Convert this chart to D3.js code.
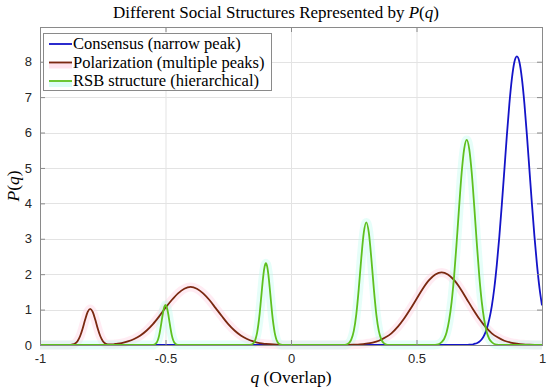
<!DOCTYPE html>
<html>
<head>
<meta charset="utf-8">
<script src="https://cdn.jsdelivr.net/npm/d3@7"></script>
<style>
  body { margin: 0; background: #fff; }
  .tick text { font-family: "Liberation Sans", Arial, sans-serif; font-size: 13px; fill: #262626; }
  .serif { font-family: "Liberation Serif", "Times New Roman", serif; fill: #000; }
</style>
</head>
<body>
<script>
// values
var xTicks = [-1, -0.5, 0, 0.5, 1];
var xTickLabels = ["-1", "-0.5", "0", "0.5", "1"];
var yTicks = [0, 1, 2, 3, 4, 5, 6, 7, 8];
var seriesNames = ["Consensus (narrow peak)", "Polarization (multiple peaks)", "RSB structure (hierarchical)"];

var qConsensus = [-1, 0.70, 0.71, 0.72, 0.73, 0.74, 0.75, 0.76, 0.77, 0.78, 0.79,
  0.80, 0.81, 0.82, 0.83, 0.84, 0.85, 0.86, 0.87, 0.88, 0.89,
  0.90, 0.91, 0.92, 0.93, 0.94, 0.95, 0.96, 0.97, 0.98, 0.99, 1.00];
var pConsensus = [0, 0, 0.01, 0.01, 0.03, 0.05, 0.09, 0.16, 0.28, 0.46, 0.73,
  1.10, 1.61, 2.27, 3.06, 3.97, 4.94, 5.92, 6.81, 7.52, 7.99,
  8.15, 7.99, 7.52, 6.81, 5.92, 4.94, 3.97, 3.06, 2.27, 1.61, 1.12];

var qPolar = [-1, -0.89, -0.88, -0.87, -0.86, -0.85, -0.84, -0.83, -0.82, -0.81, -0.80,
  -0.79, -0.78, -0.77, -0.76, -0.75, -0.74, -0.73, -0.72, -0.71,
  -0.70, -0.675, -0.65, -0.625, -0.60, -0.575, -0.55, -0.525, -0.50, -0.475, -0.45, -0.425,
  -0.40, -0.375, -0.35, -0.325, -0.30, -0.275, -0.25, -0.225, -0.20, -0.175, -0.15, -0.125,
  -0.10, -0.05, 0.00,
  0.20, 0.25, 0.275, 0.30, 0.325, 0.35, 0.375, 0.40, 0.425, 0.45, 0.475, 0.50, 0.525, 0.55, 0.575,
  0.60, 0.625, 0.65, 0.675, 0.70, 0.725, 0.75, 0.775, 0.80, 0.825, 0.85, 0.875, 0.90, 0.925, 0.95, 1.00];
var pPolar = [0, 0, 0.004, 0.015, 0.045, 0.116, 0.254, 0.467, 0.721, 0.935, 1.02,
  0.935, 0.721, 0.467, 0.254, 0.116, 0.045, 0.02, 0.02, 0.02,
  0.03, 0.05, 0.10, 0.17, 0.27, 0.41, 0.59, 0.81, 1.05, 1.27, 1.46, 1.59,
  1.64, 1.59, 1.46, 1.27, 1.04, 0.81, 0.59, 0.41, 0.27, 0.17, 0.10, 0.05,
  0.03, 0.01, 0,
  0, 0.01, 0.02, 0.04, 0.07, 0.12, 0.21, 0.33, 0.51, 0.74, 1.01, 1.30, 1.59, 1.83, 1.99,
  2.05, 1.99, 1.83, 1.59, 1.30, 1.01, 0.74, 0.51, 0.33, 0.21, 0.12, 0.07, 0.04, 0.02, 0.01, 0];

var qRSB = [-1,
  -0.55, -0.545, -0.54, -0.535, -0.53, -0.525, -0.52, -0.515, -0.51, -0.505, -0.50,
  -0.495, -0.49, -0.485, -0.48, -0.475, -0.47, -0.465, -0.46, -0.455, -0.45,
  -0.165, -0.16, -0.155, -0.15, -0.145, -0.14, -0.135, -0.13, -0.125, -0.12, -0.115, -0.11, -0.105, -0.10,
  -0.095, -0.09, -0.085, -0.08, -0.075, -0.07, -0.065, -0.06, -0.055, -0.05, -0.045, -0.04, -0.035,
  0.21, 0.22, 0.23, 0.24, 0.25, 0.26, 0.27, 0.28, 0.29, 0.30,
  0.31, 0.32, 0.33, 0.34, 0.35, 0.36, 0.37, 0.38, 0.39,
  0.57, 0.58, 0.59, 0.60, 0.61, 0.62, 0.63, 0.64, 0.65, 0.66, 0.67, 0.68, 0.69, 0.70,
  0.71, 0.72, 0.73, 0.74, 0.75, 0.76, 0.77, 0.78, 0.79, 0.80, 0.81, 0.82, 0.83, 1];
var pRSB = [0,
  0, 0.01, 0.03, 0.07, 0.15, 0.28, 0.47, 0.69, 0.91, 1.07, 1.13,
  1.07, 0.91, 0.69, 0.47, 0.28, 0.15, 0.07, 0.03, 0.01, 0,
  0, 0.01, 0.02, 0.05, 0.10, 0.20, 0.35, 0.58, 0.88, 1.25, 1.63, 1.98, 2.22, 2.31,
  2.22, 1.98, 1.63, 1.25, 0.88, 0.58, 0.35, 0.20, 0.10, 0.05, 0.02, 0.01, 0,
  0, 0.01, 0.05, 0.15, 0.39, 0.86, 1.59, 2.45, 3.17, 3.46,
  3.17, 2.45, 1.59, 0.86, 0.39, 0.15, 0.05, 0.01, 0,
  0, 0.01, 0.03, 0.08, 0.17, 0.36, 0.70, 1.22, 1.96, 2.90, 3.92, 4.87, 5.54, 5.79,
  5.54, 4.87, 3.92, 2.90, 1.96, 1.22, 0.70, 0.36, 0.17, 0.08, 0.03, 0.01, 0, 0];

var colors = ["#1414c8", "#7a2810", "#5ec01f"];
var glows = [null, "#ffc8dc", "#b8fbee"];

var W = 550, H = 392;
var margin = {top: 27, right: 8, bottom: 47, left: 40}
  , width = W - margin.left - margin.right
  , height = H - margin.top - margin.bottom;

var svg = d3.select("body").append("svg")
    .attr("width", W)
    .attr("height", H)
  .append("g")
    .attr("transform", "translate(" + margin.left + "," + margin.top + ")");

var xScale = d3.scaleLinear().domain([-1, 1]).range([0, width]);
var yScale = d3.scaleLinear().domain([0, 8.98]).range([height, 0]);

// grid
svg.append("g").selectAll("line.gx")
    .data(xTicks.slice(1, -1)).enter().append("line")
    .attr("x1", d => xScale(d) + 0.5).attr("x2", d => xScale(d) + 0.5)
    .attr("y1", 0).attr("y2", height)
    .attr("stroke", "#e3e3e3").attr("stroke-width", 1);
svg.append("g").selectAll("line.gy")
    .data(yTicks.slice(1)).enter().append("line")
    .attr("x1", 0).attr("x2", width)
    .attr("y1", d => Math.round(yScale(d)) + 0.5).attr("y2", d => Math.round(yScale(d)) + 0.5)
    .attr("stroke", "#e3e3e3").attr("stroke-width", 1);

var series = [
  {q: qConsensus, p: pConsensus},
  {q: qPolar, p: pPolar},
  {q: qRSB, p: pRSB}
];

var line = d3.line()
    .x(d => xScale(d[0]))
    .y(d => yScale(d[1]))
    .curve(d3.curveMonotoneX);

series.forEach(function(s, i) {
  var pts = s.q.map((q, j) => [q, s.p[j]]);
  if (glows[i]) {
    svg.append("path").datum(pts)
      .attr("d", line)
      .attr("fill", "none")
      .attr("stroke", glows[i])
      .attr("stroke-opacity", 0.35)
      .attr("stroke-width", 9)
      .attr("stroke-linejoin", "round");
  }
});
series.forEach(function(s, i) {
  var pts = s.q.map((q, j) => [q, s.p[j]]);
  svg.append("path").datum(pts)
    .attr("d", line)
    .attr("fill", "none")
    .attr("stroke", colors[i])
    .attr("stroke-width", 1.8)
    .attr("stroke-linejoin", "round");
});

// axes (ticks inside, box on all sides)
var axisColor = "#8a8a8a";
var gx = svg.append("g")
    .attr("transform", "translate(0," + height + ")")
    .call(d3.axisBottom(xScale).tickValues(xTicks).tickSize(-5).tickPadding(9)
      .tickFormat((d, i) => xTickLabels[i]));
var gxTop = svg.append("g")
    .call(d3.axisTop(xScale).tickValues(xTicks).tickSize(-5).tickFormat(""));
var gy = svg.append("g")
    .call(d3.axisLeft(yScale).tickValues(yTicks).tickSize(-5).tickPadding(8));
var gyRight = svg.append("g")
    .attr("transform", "translate(" + width + ",0)")
    .call(d3.axisRight(yScale).tickValues(yTicks).tickSize(-5).tickFormat(""));
[gx, gxTop, gy, gyRight].forEach(function(g) {
  g.selectAll("line").attr("stroke", axisColor);
  g.select(".domain").remove();
});
svg.append("rect")
    .attr("x", 0.5).attr("y", 0.5)
    .attr("width", width).attr("height", height)
    .attr("fill", "none").attr("stroke", axisColor);

// title and labels
var title = svg.append("text").attr("class", "serif")
    .attr("x", 236).attr("y", -9)
    .attr("text-anchor", "middle")
    .style("font-size", "17px");
title.append("tspan").text("Different Social Structures Represented by ");
title.append("tspan").style("font-style", "italic").text("P");
title.append("tspan").text("(");
title.append("tspan").style("font-style", "italic").text("q");
title.append("tspan").text(")");

var xl = svg.append("text").attr("class", "serif")
    .attr("x", width / 2).attr("y", height + 38)
    .attr("text-anchor", "middle")
    .style("font-size", "17.5px");
xl.append("tspan").style("font-style", "italic").text("q");
xl.append("tspan").text(" (Overlap)");

var yl = svg.append("text").attr("class", "serif")
    .attr("transform", "translate(-21," + (height / 2) + ") rotate(-90)")
    .attr("text-anchor", "middle")
    .style("font-size", "17.5px");
yl.append("tspan").style("font-style", "italic").text("P");
yl.append("tspan").text("(");
yl.append("tspan").style("font-style", "italic").text("q");
yl.append("tspan").text(")");

// legend
var legend = svg.append("g").attr("transform", "translate(3,6)");
legend.append("rect")
    .attr("x", 0.5).attr("y", 0.5)
    .attr("width", 228).attr("height", 57)
    .attr("fill", "#fff").attr("stroke", axisColor);
seriesNames.forEach(function(name, i) {
  var cy = 11 + i * 18.5;
  if (glows[i]) {
    legend.append("rect")
      .attr("x", 6).attr("y", cy - 1).attr("width", 23).attr("height", 7)
      .attr("fill", glows[i]).attr("opacity", 0.5);
  }
  legend.append("line")
    .attr("x1", 6).attr("x2", 29)
    .attr("y1", cy).attr("y2", cy)
    .attr("stroke", colors[i]).attr("stroke-width", 1.8);
  legend.append("text").attr("class", "serif")
    .attr("x", 30).attr("y", cy + 5)
    .style("font-size", "16.5px")
    .text(name);
});
</script>
</body>
</html>
